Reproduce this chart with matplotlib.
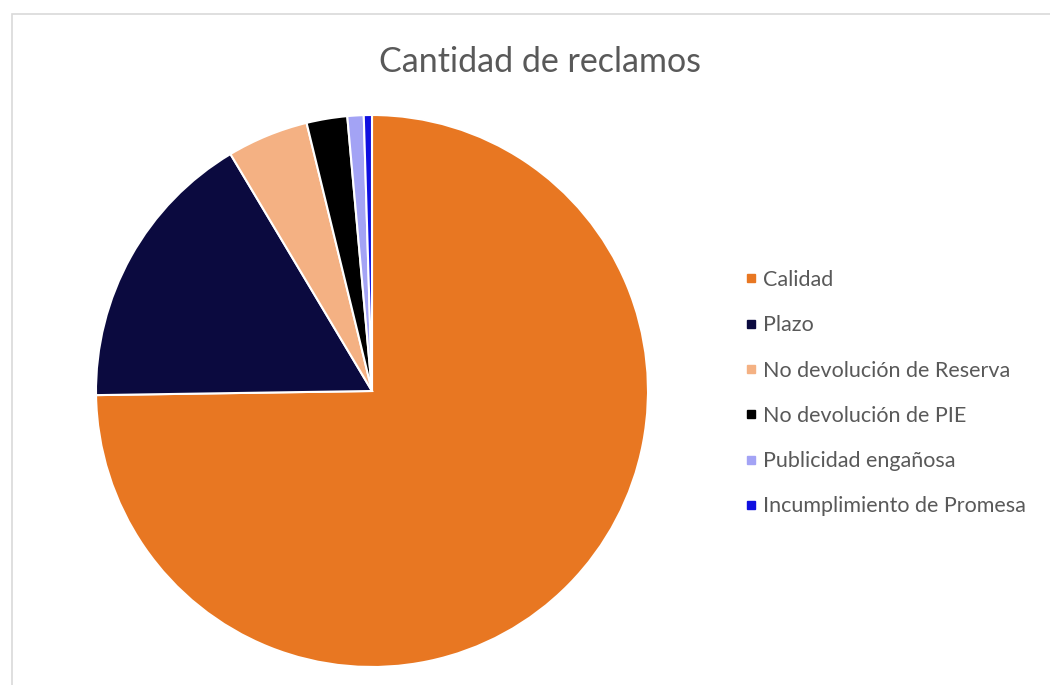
import matplotlib
matplotlib.use("Agg")
import matplotlib.pyplot as plt
from matplotlib.lines import Line2D
from matplotlib.patches import Rectangle

categories = ["Calidad", "Plazo", "No devolución de Reserva", "No devolución de PIE",
              "Publicidad engañosa", "Incumplimiento de Promesa"]
values = [157, 35, 10, 5, 2, 1]
colors = ["#E87722", "#0B0A3F", "#F4B183", "#000000", "#A3A3F5", "#1010E0"]
title = "Cantidad de reclamos"

plt.rcParams['font.family'] = ['Lato', 'DejaVu Sans']
W, H = 1050, 685
fig = plt.figure(figsize=(W/100, H/100), dpi=100)
fig.patch.set_facecolor("white")

# chart border
fig.add_artist(Rectangle((12/W, -0.01), 1.1, 1 - 14/H + 0.01, transform=fig.transFigure,
                         fill=False, edgecolor="#D9D9D9", linewidth=1.2))

cx, cy, r = 372, 391, 276
ax = fig.add_axes([(cx - r)/W, (H - cy - r)/H, 2*r/W, 2*r/H])
ax.pie(values, colors=colors, startangle=90, counterclock=False, radius=1,
       wedgeprops=dict(edgecolor="white", linewidth=1.5))
ax.set_xlim(-1, 1)
ax.set_ylim(-1, 1)
ax.set_aspect("auto")
ax.axis("off")

fig.text(540/W, 1 - 62/H, title, ha="center", va="center", fontsize=24.5, color="#595959")

handles = [Line2D([], [], linestyle="none", marker="s", markersize=5.5,
                  markerfacecolor=c, markeredgecolor=c) for c in colors]
leg = fig.legend(handles, categories, loc="upper left", bbox_to_anchor=(746/W, 1 - 270/H),
                 frameon=False, fontsize=15.5, labelcolor="#595959", handlelength=0.5,
                 handletextpad=0.3, labelspacing=1.175, borderaxespad=0, borderpad=0)

fig.savefig("out.png", dpi=100, facecolor="white")
